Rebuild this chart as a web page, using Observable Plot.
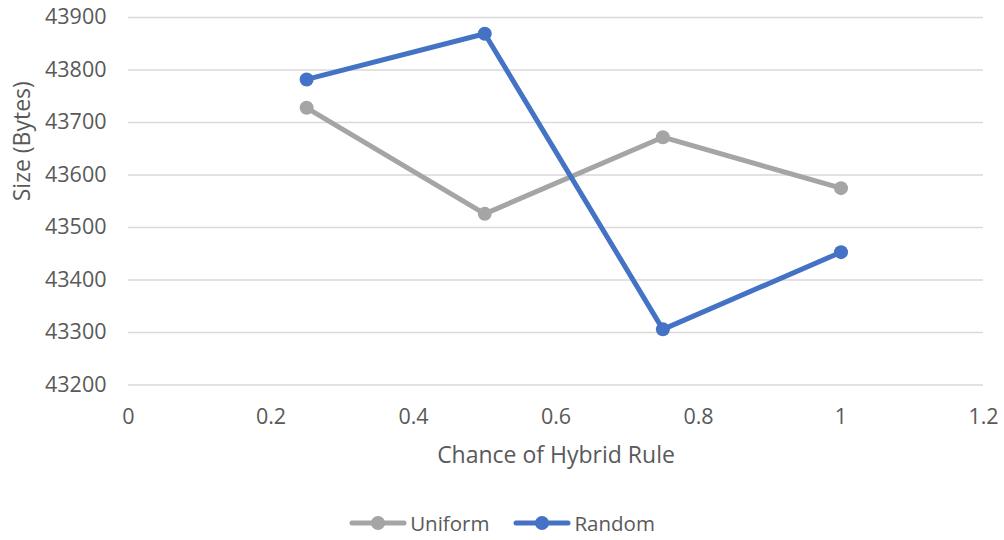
<!DOCTYPE html>
<html>
<head>
<meta charset="utf-8">
<script src="https://cdn.jsdelivr.net/npm/d3@7"></script>
<script src="https://cdn.jsdelivr.net/npm/@observablehq/plot@0.6"></script>
<style>
  body { margin: 0; background: #fff; font-family: "Open Sans", sans-serif; }
  #legend { display: flex; justify-content: center; align-items: center; gap: 24px; height: 50px; padding-top: 8px; color: #595959; font-size: 20.5px; }
  .item { display: flex; align-items: center; gap: 3px; }
</style>
</head>
<body>
<div id="chart"></div>
<div id="legend"></div>
<script>
const chance = [0.25, 0.5, 0.75, 1];
const uniform = [43728, 43526, 43672, 43575];
const random = [43782, 43869, 43306, 43453];
const seriesNames = ["Uniform", "Random"];
const seriesColors = ["#A5A5A5", "#4472C4"];
const xTicks = [0, 0.2, 0.4, 0.6, 0.8, 1, 1.2];
const yTicks = [43200, 43300, 43400, 43500, 43600, 43700, 43800, 43900];
const xTitle = "Chance of Hybrid Rule";
const yTitle = "Size (Bytes)";

const rows = [];
chance.forEach((c, i) => rows.push({series: "Uniform", x: c, y: uniform[i]}));
chance.forEach((c, i) => rows.push({series: "Random", x: c, y: random[i]}));

const chart = Plot.plot({
  width: 1004,
  height: 490,
  marginTop: 17,
  marginBottom: 105.5,
  marginLeft: 128,
  marginRight: 21,
  style: {fontFamily: "'Open Sans', sans-serif", fontSize: "20px", color: "#595959", background: "#fff"},
  x: {domain: [0, 1.2]},
  y: {domain: [43200, 43900]},
  color: {domain: seriesNames, range: seriesColors},
  marks: [
    Plot.ruleY(yTicks, {stroke: "#D9D9D9", strokeWidth: 1.3}),
    Plot.axisY({ticks: yTicks, tickSize: 0, tickPadding: 22, tickFormat: d => String(d), fontSize: 21.5,
      label: null, fill: "#595959"}),
    Plot.axisX({ticks: xTicks, tickSize: 0, tickPadding: 24, tickFormat: d => String(d), fontSize: 21.5,
      label: null, fill: "#595959"}),
    Plot.text([xTitle], {frameAnchor: "bottom", dy: 78, fontSize: 23, fill: "#595959", text: d => d}),
    Plot.text([yTitle], {frameAnchor: "left", dx: -106, rotate: -90, fontSize: 23, fill: "#595959", text: d => d}),
    Plot.line(rows, {x: "x", y: "y", z: "series", stroke: "series", strokeWidth: 5, strokeLinejoin: "round", strokeLinecap: "round"}),
    Plot.dot(rows, {x: "x", y: "y", fill: "series", r: 7})
  ]
});
document.getElementById("chart").appendChild(chart);

const legend = document.getElementById("legend");
seriesNames.forEach((name, i) => {
  const item = document.createElement("div");
  item.className = "item";
  item.innerHTML = `<svg width="58" height="16"><line x1="3" y1="8" x2="55" y2="8" stroke="${seriesColors[i]}" stroke-width="5" stroke-linecap="round"/><circle cx="29" cy="8" r="7" fill="${seriesColors[i]}"/></svg><span>${name}</span>`;
  legend.appendChild(item);
});
</script>
</body>
</html>
